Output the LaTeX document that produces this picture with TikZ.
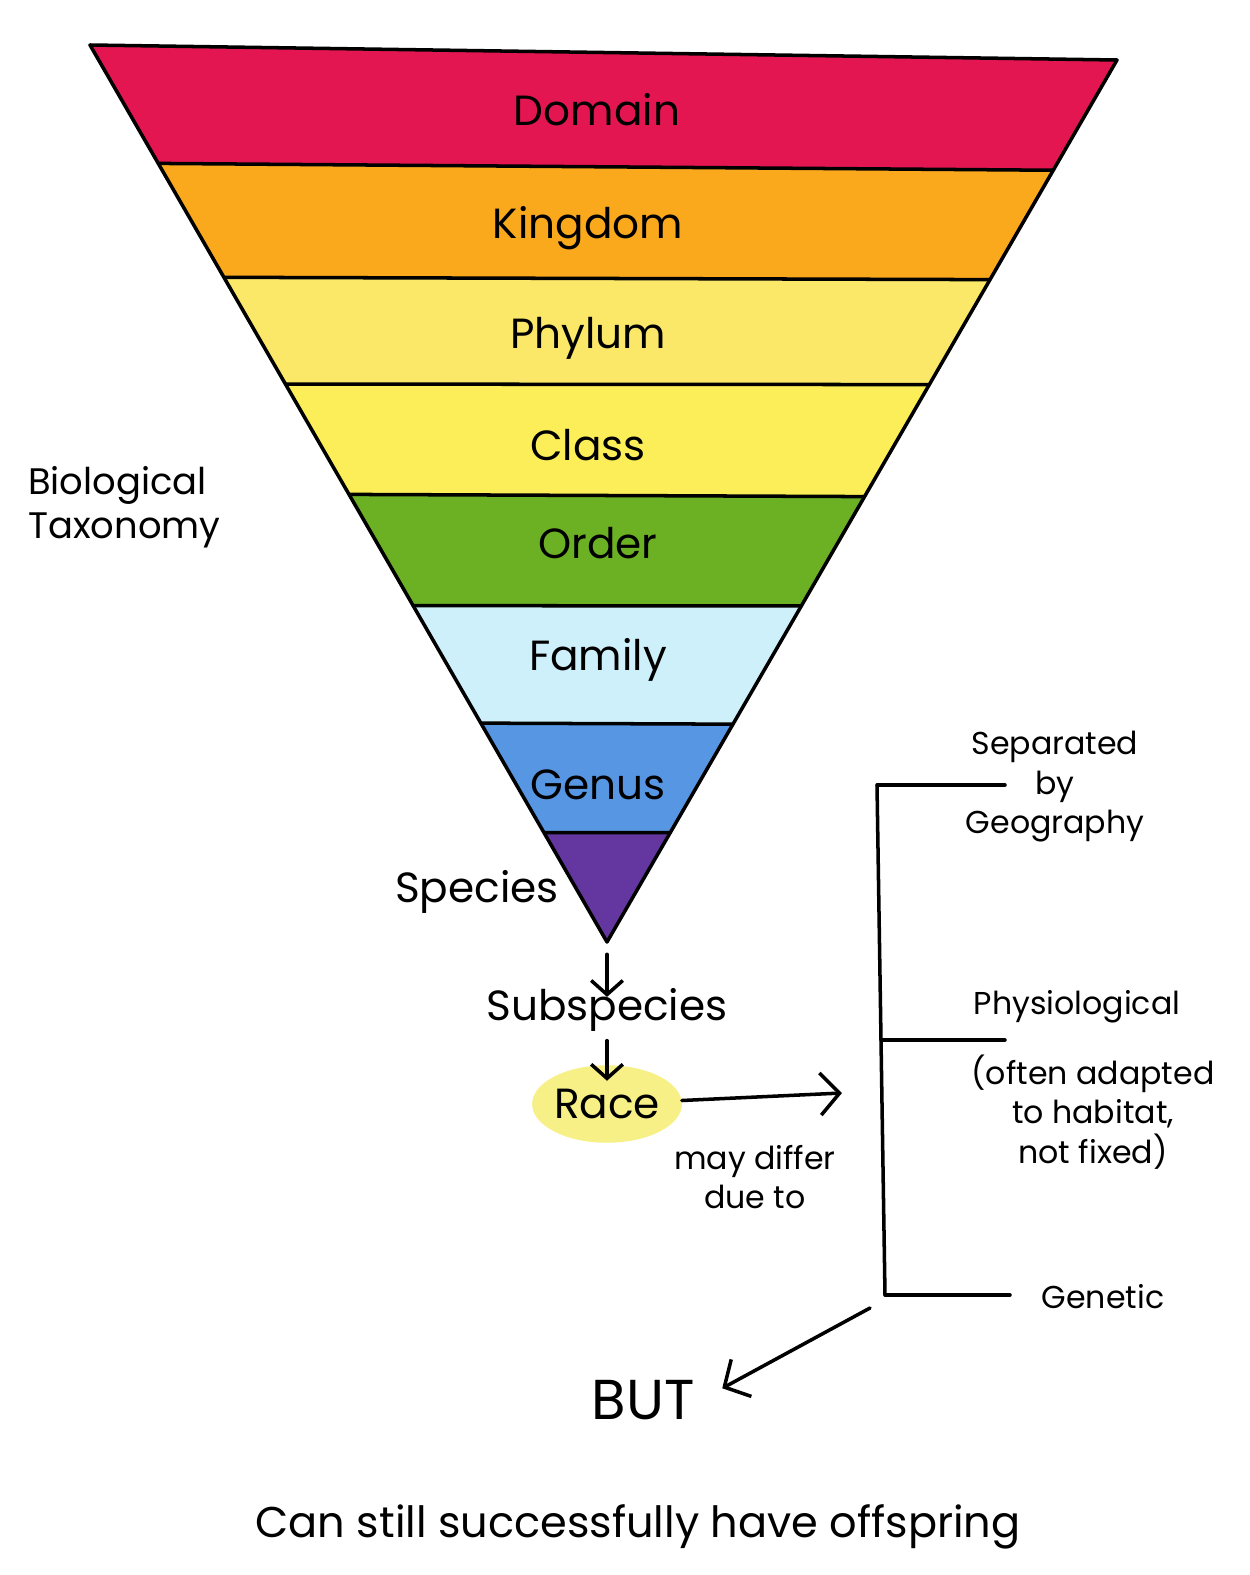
\documentclass[tikz,border=0pt]{standalone}
\usepackage{fontspec}
\setmainfont{Poppins}
\usetikzlibrary{arrows.meta,calc,positioning,shapes.geometric}

\definecolor{domaincol}{RGB}{228,22,82}
\definecolor{kingdomcol}{RGB}{250,168,28}
\definecolor{phylumcol}{RGB}{251,231,104}
\definecolor{classcol}{RGB}{252,238,88}
\definecolor{ordercol}{RGB}{108,176,36}
\definecolor{familycol}{RGB}{205,240,250}
\definecolor{genuscol}{RGB}{86,150,226}
\definecolor{speciescol}{RGB}{100,55,160}
\definecolor{racecol}{RGB}{247,240,135}

\begin{document}
\begin{tikzpicture}[x=0.02cm,y=-0.02cm,line join=round,line cap=round,
                    >={Straight Barb[length=11pt,width=24pt]}]
  \tikzstyle{rank}=[font=\fontsize{24}{28}\selectfont,inner sep=2pt]
  \tikzstyle{note}=[font=\fontsize{18}{22.5}\selectfont,align=center]
  \tikzstyle{pen}=[line width=2pt]
  \tikzstyle{drop}=[pen,-{Straight Barb[length=8pt,width=18pt]}]

  \useasboundingbox (0,0) rectangle (1250,1575);
  \fill[white] (0,0) rectangle (1250,1575);

  % the funnel
  \coordinate (tl)   at (90,45);
  \coordinate (tr)   at (1117,60);
  \coordinate (apex) at (607,942);
  \coordinate (L0) at (tl);   \coordinate (R0) at (tr);
  \coordinate (L8) at (apex); \coordinate (R8) at (apex);
  \foreach \t/\u [count=\i] in {0.132/0.125,0.259/0.249,0.378/0.368,
                                0.501/0.495,0.625/0.619,0.756/0.753,
                                0.878/0.876}{
    \coordinate (L\i) at ($(tl)!\t!(apex)$);
    \coordinate (R\i) at ($(tr)!\u!(apex)$);
  }
  \foreach \c [count=\j] in {domaincol,kingdomcol,phylumcol,classcol,
                             ordercol,familycol,genuscol,speciescol}{
    \pgfmathtruncatemacro\i{\j-1}
    \fill[\c] (L\i) -- (R\i) -- (R\j) -- (L\j) -- cycle;
  }
  \foreach \i in {1,...,7}
    \draw[pen] (L\i) -- (R\i);
  \draw[pen] (tl) -- (tr) -- (apex) -- cycle;

  \node[rank] (domain)  at (597,110) {Domain};
  \node[rank] (kingdom) at (588,228) {Kingdom};
  \node[rank] (phylum)  at (588,338) {Phylum};
  \node[rank] (class)   at (588,445) {Class};
  \node[rank] (order)   at (598,543) {Order};
  \node[rank] (family)  at (598,660) {Family};
  \node[rank] (genus)   at (598,785) {Genus};
  \node[rank] (species) at (477,892) {Species};

  \node[note,font=\fontsize{21}{25}\selectfont,align=left,anchor=west]
    (bio) at (22,507) {Biological\\Taxonomy};

  % below the species
  \node[rank] (sub) at (607,1010) {Subspecies};
  \node[rank,ellipse,fill=racecol,inner sep=0pt,minimum width=2.5cm,
        minimum height=1.55cm] (race) at (607,1104) {Race};

  \draw[drop,shorten <=7pt,shorten >=-7pt] (apex) -- (sub);
  \draw[drop,shorten <=3pt,shorten >=-9pt] (sub) -- (race);

  \coordinate (diff) at (842,1093);
  \draw[pen,->] (race) -- (diff);
  \node[note] (differ) at (755,1177) {may differ\\due to};

  % the three causes
  \coordinate (gtop) at (877,785);
  \coordinate (gmid) at (881,1040);
  \coordinate (gbot) at (885,1295);
  \coordinate (g1) at (1005,785);
  \coordinate (g2) at (1005,1040);
  \coordinate (g3) at (1010,1295);
  \draw[pen] (gtop) -- (gbot);
  \draw[pen] (gtop) -- (g1);
  \draw[pen] (gmid) -- (g2);
  \draw[pen] (gbot) -- (g3);

  \node[note] (geo)   at (1055,787)  {Separated\\by\\Geography};
  \node[note] (phys)  at (1077,1007) {Physiological};
  \node[note] (habit) at (1093,1112) {(often adapted\\to habitat,\\not fixed)};
  \node[note] (gen)   at (1103,1297) {Genetic};

  \node[font=\fontsize{32}{36}\selectfont] (but) at (643,1400) {BUT};
  \coordinate (bstart) at (870,1308);
  \draw[pen,->,shorten >=14pt] (bstart) -- (but.east);

  \node[font=\fontsize{24.5}{28}\selectfont] (off) at (638,1527)
    {Can still successfully have offspring};
\end{tikzpicture}
\end{document}
